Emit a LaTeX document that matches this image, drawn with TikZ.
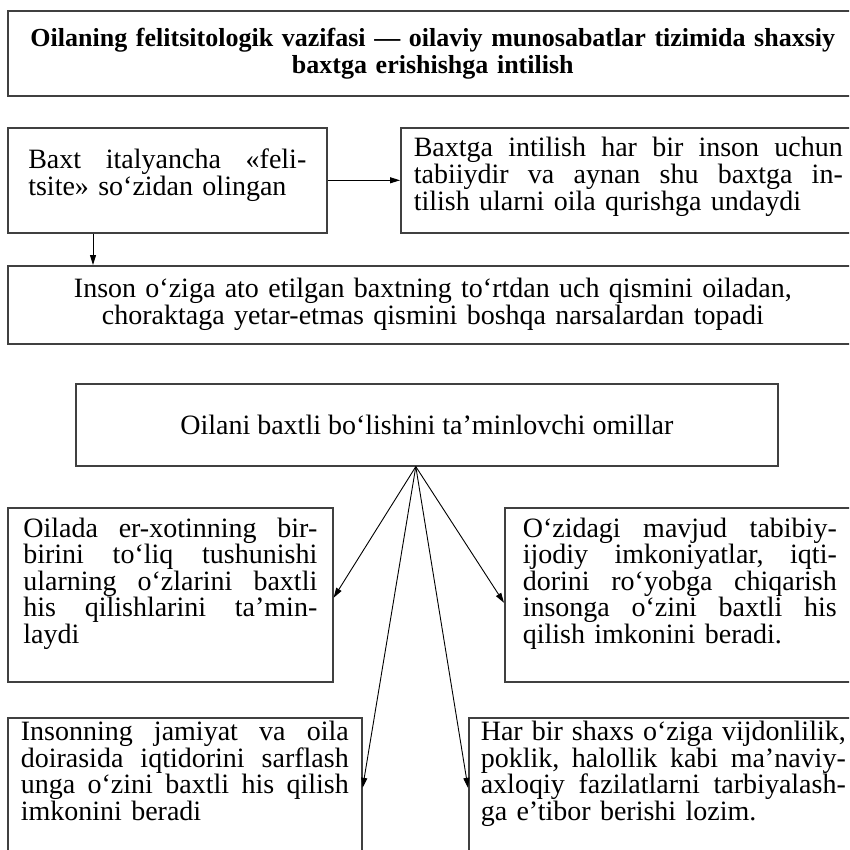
\documentclass[tikz,border=0pt]{standalone}
\usepackage{fontspec}
\setmainfont{Liberation Serif}
\usetikzlibrary{arrows.meta}
% one fully justified line of a box text
\newcommand{\jl}[1]{\leavevmode\hbox to \hsize{\frenchspacing\spaceskip=0.25em plus 1fil\relax #1}}
\begin{document}
\begin{tikzpicture}[x=1pt,y=1pt,
  box/.style={draw=black!75, line width=1.6pt, rectangle, inner sep=0pt, anchor=north west},
  wide/.style={font=\fontsize{28}{27}\selectfont},
  mid/.style={font=\fontsize{28}{26.5}\selectfont},
  tight/.style={font=\fontsize{28}{25}\selectfont},
  link/.style={line width=0.9pt, -{Triangle[length=10pt,width=6pt]}}
]
\useasboundingbox (0,0) rectangle (849,-850);
\begin{scope}
\clip (0,0) rectangle (849,-850);

% heading
\node[box, minimum width=850, minimum height=85, text width=830, align=center,
      font=\bfseries\fontsize{26}{27}\selectfont] (title) at (7,-10)
  {Oilaning felitsitologik vazifasi — oilaviy munosabatlar tizimida shaxsiy\\ baxtga erishishga intilish};

% upper block
\node[box, wide, minimum width=319, minimum height=105, text width=278, align=left] (A) at (7,-127)
  {\jl{Baxt italyancha «feli-}\\ tsite» so‘zidan olingan\rule[-16pt]{0pt}{1pt}};
\node[box, wide, minimum width=455, minimum height=105, text width=429, align=left] (B) at (400,-127)
  {\jl{Baxtga intilish har bir inson uchun}\\ \jl{tabiiydir va aynan shu baxtga in-}\\ tilish ularni oila qurishga undaydi\rule[-13pt]{0pt}{1pt}};
\node[box, wide, minimum width=850, minimum height=78, text width=820, align=center] (C) at (7,-265)
  {Inson o‘ziga ato etilgan baxtning to‘rtdan uch qismini oiladan,\\ choraktaga yetar-etmas qismini boshqa narsalardan topadi};

\draw[link] (A.east) -- (B.west);
\coordinate (aDown) at ([xshift=86pt]A.south west);
\draw[link] (aDown) -- (aDown |- C.north);

% factors block
\node[box, wide, minimum width=702, minimum height=82, align=center] (D) at (75,-383)
  {Oilani baxtli bo‘lishini ta’minlovchi omillar};

\node[box, mid, minimum width=325, minimum height=174, text width=294, align=left] (E) at (7,-507)
  {\jl{Oilada er-xotinning bir-}\\ \jl{birini to‘liq tushunishi}\\ \jl{ularning o‘zlarini baxtli}\\ \jl{his qilishlarini ta’min-}\\ laydi\rule[-29pt]{0pt}{1pt}};
\node[box, mid, minimum width=350, minimum height=174, text width=314, align=left] (F) at (504,-507)
  {\jl{O‘zidagi mavjud tabibiy-}\\ \jl{ijodiy imkoniyatlar, iqti-}\\ \jl{dorini ro‘yobga chiqarish}\\ \jl{insonga o‘zini baxtli his}\\ qilish imkonini beradi.\rule[-29pt]{0pt}{1pt}};
\node[box, tight, minimum width=354, minimum height=140, text width=328, align=left] (G) at (7,-717)
  {\jl{Insonning jamiyat va oila}\\ \jl{doirasida iqtidorini sarflash}\\ \jl{unga o‘zini baxtli his qilish}\\ imkonini beradi\rule[-34pt]{0pt}{1pt}};
\node[box, tight, minimum width=389, minimum height=140, text width=365, align=left] (H) at (468,-717)
  {\jl{Har bir shaxs o‘ziga vijdonlilik,}\\ \jl{poklik, halollik kabi ma’naviy-}\\ \jl{axloqiy fazilatlarni tarbiyalash-}\\ ga e’tibor berishi lozim.\rule[-34pt]{0pt}{1pt}};

\coordinate (fan) at ([xshift=-11pt]D.south);
\draw[link] (fan) -- ([yshift=-3pt]E.east);
\draw[link] (fan) -- ([yshift=-8pt]F.west);
\draw[link] (fan) -- (G.east);
\draw[link] (fan) -- (H.west);
\end{scope}
\end{tikzpicture}
\end{document}
